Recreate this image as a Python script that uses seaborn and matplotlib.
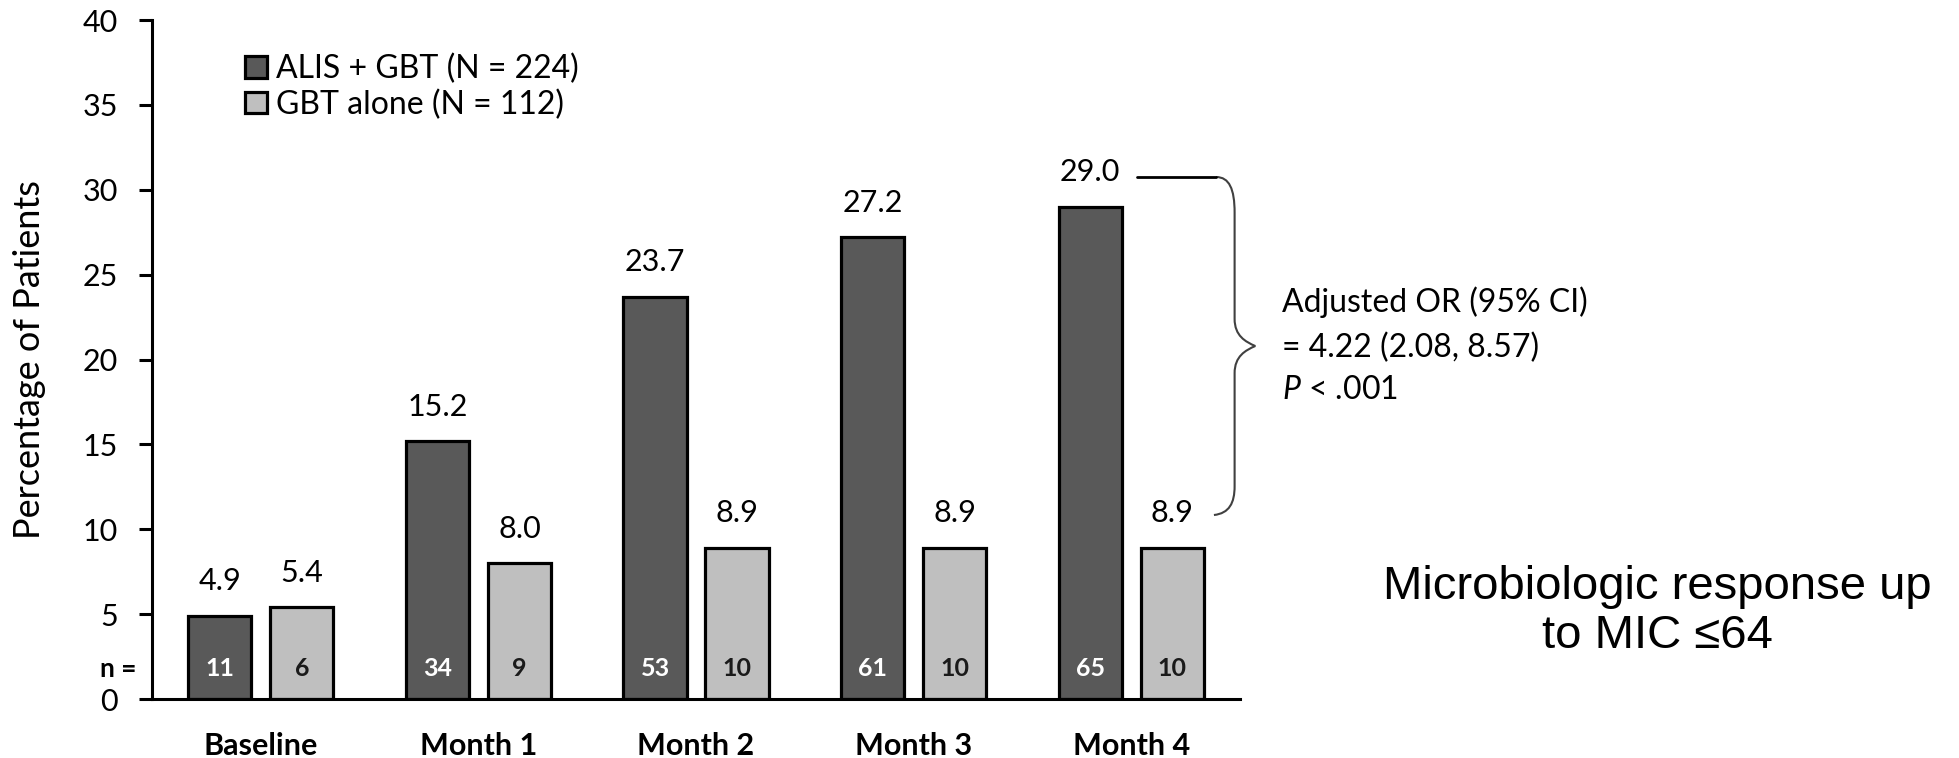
import pandas as pd
import seaborn as sns
import matplotlib.pyplot as plt
from matplotlib.path import Path
from matplotlib.patches import PathPatch
from matplotlib.transforms import blended_transform_factory

# dados
timepoints = ["Baseline", "Month 1", "Month 2", "Month 3", "Month 4"]
groups = ["ALIS + GBT (N = 224)", "GBT alone (N = 112)"]
alis_gbt = [4.9, 15.2, 23.7, 27.2, 29.0]
gbt_alone = [5.4, 8.0, 8.9, 8.9, 8.9]
n_alis = [11, 34, 53, 61, 65]
n_gbt = [6, 9, 10, 10, 10]
yticks = [0, 5, 10, 15, 20, 25, 30, 35, 40]

df = pd.DataFrame({
    "timepoint": timepoints * 2,
    "pct": alis_gbt + gbt_alone,
    "group": [groups[0]] * 5 + [groups[1]] * 5,
})

sns.set_style("white")
plt.rcParams["font.family"] = ["Lato", "DejaVu Sans"]
plt.rcParams["mathtext.fontset"] = "custom"
plt.rcParams["mathtext.it"] = "Lato:italic"
plt.rcParams["mathtext.rm"] = "Lato"
for k in ["text.color", "axes.labelcolor", "xtick.color", "ytick.color"]:
    plt.rcParams[k] = "black"

fig = plt.figure(figsize=(19.59, 7.58), dpi=100)
ax = fig.add_axes([0.0776, 0.0778, 0.5554, 0.8958])

sns.barplot(data=df, x="timepoint", y="pct", hue="group",
            palette=["#595959", "#bfbfbf"], width=0.754, gap=0.23,
            edgecolor="black", linewidth=2.3, ax=ax)

ax.set_ylim(0, 40)
ax.set_xlim(-0.5, 4.5)
ax.set_yticks(yticks)
ax.set_xlabel("")
ax.set_ylabel("Percentage of Patients", fontsize=26)
ax.yaxis.set_label_coords(-0.097, 0.5)
sns.despine(ax=ax)
for s in ["left", "bottom"]:
    ax.spines[s].set_linewidth(2.2)
    ax.spines[s].set_color("black")
ax.tick_params(axis="y", length=9.4, width=2.2, pad=15, labelsize=22, colors="black", left=True)
ax.tick_params(axis="x", length=0, pad=24, labelsize=22, colors="black")
for lab in ax.get_xticklabels():
    lab.set_fontweight("bold")

# valores em cima das barras e n dentro delas
vals = [alis_gbt, gbt_alone]
ns = [n_alis, n_gbt]
ncolors = ["white", "#1a1a1a"]
for k, cont in enumerate(ax.containers):
    for i, bar in enumerate(cont):
        xc = bar.get_x() + bar.get_width() / 2
        ax.text(xc, vals[k][i] + 1.5, f"{vals[k][i]:.1f}", ha="center", va="baseline", fontsize=22)
        ax.text(xc, 1.9, str(ns[k][i]), ha="center", va="center_baseline", fontsize=18,
                fontweight="bold", color=ncolors[k])

tr = blended_transform_factory(ax.transAxes, ax.transData)
ax.text(-0.0147, 1.9, "n =", transform=tr, ha="right", va="center_baseline", fontsize=19,
        fontweight="bold", clip_on=False)

handles, labels = ax.get_legend_handles_labels()
ax.legend(handles, labels, loc="upper left", bbox_to_anchor=(0.0855, 0.95), frameon=False,
          fontsize=23, handlelength=0.69, handleheight=0.66, handletextpad=0.28,
          labelspacing=0.15, borderpad=0, borderaxespad=0)

# chave com o OR ajustado
top = alis_gbt[-1] + 1.75
bot = gbt_alone[-1] + 1.94
mid = (top + bot) / 2
ax.plot([0.905, 0.978], [top, top], color="black", lw=2, transform=tr, clip_on=False)
verts = [(0.978, top), (0.990, top), (0.995, top - 0.7), (0.995, top - 2.1),
         (0.995, mid + 1.6),
         (0.995, mid + 0.6), (1.005, mid + 0.25), (1.014, mid),
         (1.005, mid - 0.25), (0.995, mid - 0.6), (0.995, mid - 1.6),
         (0.995, bot + 1.7),
         (0.995, bot + 0.7), (0.990, bot + 0.1), (0.976, bot)]
codes = [Path.MOVETO, Path.CURVE4, Path.CURVE4, Path.CURVE4, Path.LINETO,
         Path.CURVE4, Path.CURVE4, Path.CURVE4, Path.CURVE4, Path.CURVE4, Path.CURVE4,
         Path.LINETO, Path.CURVE4, Path.CURVE4, Path.CURVE4]
ax.add_patch(PathPatch(Path(verts, codes), fill=False, lw=1.5, edgecolor="#404040",
                       transform=tr, clip_on=False))
ax.text(1.0386, mid + 2.6, "Adjusted OR (95% CI)", transform=tr, ha="left", va="center", fontsize=23)
ax.text(1.0386, mid - 0.1, "= 4.22 (2.08, 8.57)", transform=tr, ha="left", va="center", fontsize=23)
ax.text(1.0386, mid - 2.6, r"$\mathit{P}$ < .001", transform=tr, ha="left", va="center", fontsize=23)

fig.text(0.846, 0.193, "Microbiologic response up\nto MIC ≤64", ha="center", va="center",
         multialignment="center", fontsize=34, linespacing=1.15, color="black",
         family=["Liberation Sans", "DejaVu Sans"])

fig.savefig("out.png", dpi=100)
